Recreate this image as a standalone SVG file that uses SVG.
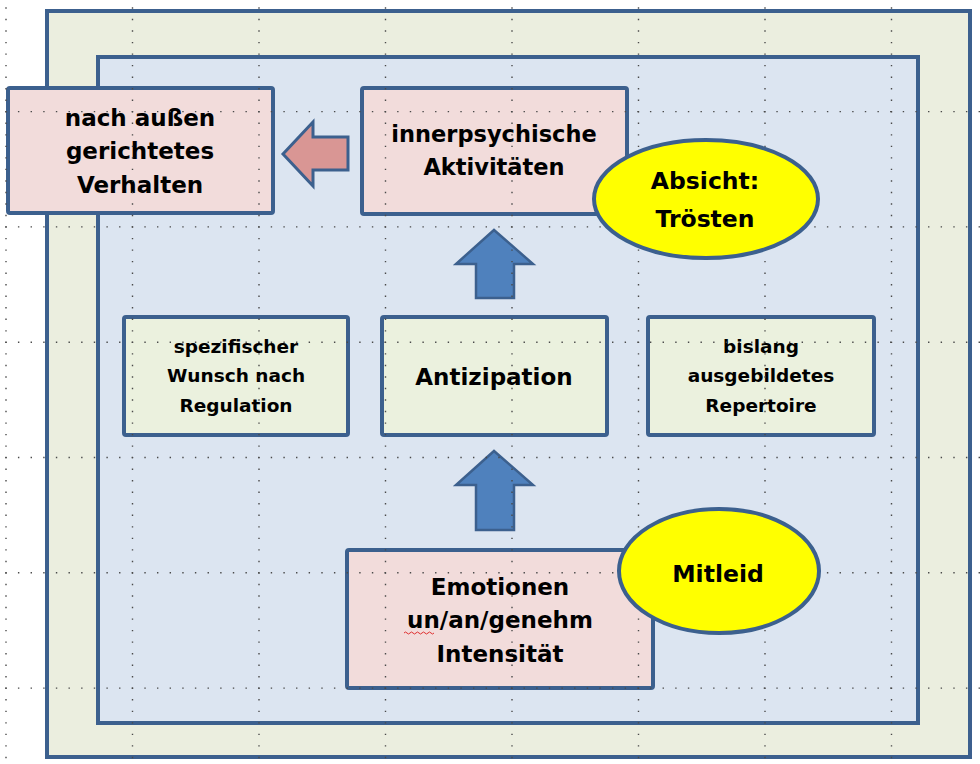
<svg xmlns="http://www.w3.org/2000/svg" width="980" height="764" viewBox="0 0 980 764">
  <style>
    .frame { stroke: #3c608e; stroke-width: 4; }
    .box { stroke: #3c608e; stroke-width: 4; }
    .pink { fill: #f2dcdb; }
    .green { fill: #ebf1de; }
    .oval { fill: #ffff00; stroke: #3c608e; stroke-width: 4; }
    .arrow-up { fill: #4f81bd; stroke: #3c608e; stroke-width: 2.5; stroke-linejoin: miter; }
    .arrow-left { fill: #d99694; stroke: #3c608e; stroke-width: 3; stroke-linejoin: miter; }
    .label { font-family: "DejaVu Sans", "Liberation Sans", sans-serif; font-weight: bold; fill: #000; text-anchor: middle; }
    .gv { stroke: #4a4a4a; stroke-width: 1.4; stroke-dasharray: 1.4 10.13; }
    .gh { stroke: #4a4a4a; stroke-width: 1.4; stroke-dasharray: 1.4 11.24; }
  </style>

  <rect width="980" height="764" fill="#ffffff"/>

  <!-- nested frames -->
  <g id="outer-frame">
    <rect class="frame" x="47" y="11" width="923" height="746" fill="#ebeedf"/>
  </g>
  <g id="inner-frame">
    <rect class="frame" x="98" y="57" width="820" height="666" fill="#dce5f1"/>
  </g>

  <!-- connectors (block arrows) -->
  <g id="connectors">
    <polygon class="arrow-left" points="348,137 348,170 313,170 313,186 283,154 313,122 313,137"/>
    <polygon class="arrow-up" points="476,298 514,298 514,264 533,264 494,230 456,264 476,264"/>
    <polygon class="arrow-up" points="476,530 514,530 514,485 533,485 494,451 456,485 476,485"/>
  </g>

  <g id="node-verhalten">
    <rect class="box pink" x="8" y="88" width="265" height="125" rx="2"/>
    <text class="label" font-size="23" x="140" y="126">nach außen<tspan x="140" y="159">gerichtetes</tspan><tspan x="140" y="193">Verhalten</tspan></text>
  </g>

  <g id="node-innerpsychisch">
    <rect class="box pink" x="362" y="88" width="265" height="126" rx="2"/>
    <text class="label" font-size="22.5" x="494" y="142">innerpsychische<tspan x="494" y="175">Aktivitäten</tspan></text>
  </g>

  <g id="node-wunsch">
    <rect class="box green" x="124" y="317" width="224" height="118" rx="2"/>
    <text class="label" font-size="18.5" x="236" y="353">spezifischer<tspan x="236" y="382">Wunsch nach</tspan><tspan x="236" y="412">Regulation</tspan></text>
  </g>

  <g id="node-antizipation">
    <rect class="box green" x="382" y="317" width="225" height="118" rx="2"/>
    <text class="label" font-size="23" x="494" y="385">Antizipation</text>
  </g>

  <g id="node-repertoire">
    <rect class="box green" x="648" y="317" width="226" height="118" rx="2"/>
    <text class="label" font-size="18.5" x="761" y="353">bislang<tspan x="761" y="382">ausgebildetes</tspan><tspan x="761" y="412">Repertoire</tspan></text>
  </g>

  <g id="node-emotionen">
    <rect class="box pink" x="347" y="550" width="306" height="138" rx="2"/>
    <text class="label" font-size="23" x="500" y="595">Emotionen<tspan x="500" y="628">un/an/genehm</tspan><tspan x="500" y="662">Intensität</tspan></text>
    <!-- spell-check squiggle under "un" -->
    <path d="M404,633 q1.5,-2 3,0 t3,0 t3,0 t3,0 t3,0 t3,0 t3,0 t3,0 t3,0 t3,0" fill="none" stroke="#e03030" stroke-width="1"/>
  </g>

  <!-- dotted layout grid -->
  <g id="grid">
    <line class="gv" x1="6" y1="7.3" x2="6" y2="764"/>
    <line class="gv" x1="132.5" y1="7.3" x2="132.5" y2="764"/>
    <line class="gv" x1="259" y1="7.3" x2="259" y2="764"/>
    <line class="gv" x1="385.5" y1="7.3" x2="385.5" y2="764"/>
    <line class="gv" x1="512" y1="7.3" x2="512" y2="764"/>
    <line class="gv" x1="638.5" y1="7.3" x2="638.5" y2="764"/>
    <line class="gv" x1="765" y1="7.3" x2="765" y2="764"/>
    <line class="gv" x1="891.5" y1="7.3" x2="891.5" y2="764"/>
    <line class="gh" x1="5.3" y1="111.6" x2="980" y2="111.6"/>
    <line class="gh" x1="5.3" y1="226.9" x2="980" y2="226.9"/>
    <line class="gh" x1="5.3" y1="342.2" x2="980" y2="342.2"/>
    <line class="gh" x1="5.3" y1="457.5" x2="980" y2="457.5"/>
    <line class="gh" x1="5.3" y1="572.8" x2="980" y2="572.8"/>
    <line class="gh" x1="5.3" y1="688.1" x2="980" y2="688.1"/>
  </g>

  <g id="node-absicht">
    <ellipse class="oval" cx="706" cy="199" rx="112" ry="59"/>
    <text class="label" font-size="23.5" x="705" y="189">Absicht:<tspan x="705" y="227">Trösten</tspan></text>
  </g>

  <g id="node-mitleid">
    <ellipse class="oval" cx="719" cy="571" rx="100" ry="62"/>
    <text class="label" font-size="23.5" x="718" y="582">Mitleid</text>
  </g>
</svg>
